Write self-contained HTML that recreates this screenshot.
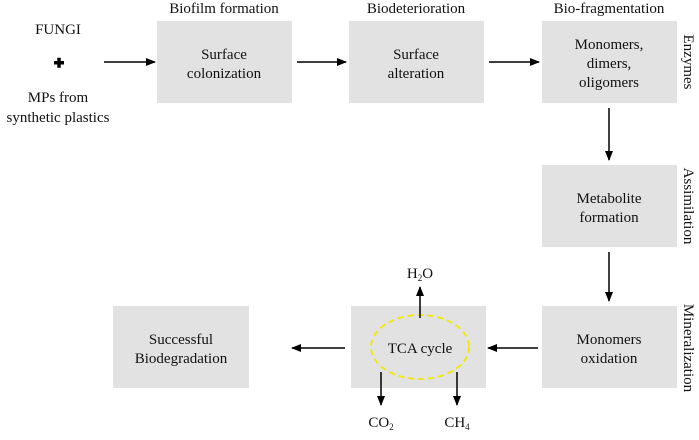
<!DOCTYPE html><html><head><style>
body{margin:0;background:#fff}
text{font-family:"Liberation Serif",serif;fill:#111}
</style></head><body>
<svg width="699" height="435" viewBox="0 0 699 435" xmlns="http://www.w3.org/2000/svg">
<defs><marker id="a" markerWidth="10" markerHeight="8" refX="9" refY="4" orient="auto" markerUnits="userSpaceOnUse"><path d="M0,0L10,4L0,8z" fill="#000"/></marker></defs>
<g fill="#e2e2e2">
<rect x="157" y="21" width="135" height="82"/>
<rect x="349" y="21" width="135" height="82"/>
<rect x="542" y="21" width="135" height="82"/>
<rect x="542" y="165" width="135" height="82"/>
<rect x="542" y="306" width="135" height="82"/>
<rect x="351" y="306" width="135" height="82"/>
<rect x="113" y="306" width="136" height="82"/>
</g>
<ellipse cx="420" cy="347" rx="49" ry="32" fill="none" stroke="#f5e800" stroke-width="1.8" stroke-dasharray="6,4"/>
<g stroke="#000" stroke-width="1.5" marker-end="url(#a)">
<line x1="104" y1="62" x2="155" y2="62"/>
<line x1="297" y1="62" x2="346" y2="62"/>
<line x1="489" y1="62" x2="539" y2="62"/>
<line x1="609" y1="108" x2="609" y2="160"/>
<line x1="609" y1="252" x2="609" y2="301"/>
<line x1="538" y1="348" x2="488" y2="348"/>
<line x1="345" y1="348" x2="292" y2="348"/>
<line x1="420" y1="318" x2="420" y2="287"/>
<line x1="381" y1="372" x2="381" y2="405"/>
<line x1="457" y1="372" x2="457" y2="405"/>
</g>
<rect x="54" y="61" width="10" height="3.5" fill="#000"/>
<rect x="57.25" y="57.75" width="3.5" height="10" fill="#000"/>
<g font-size="15" text-anchor="middle">
<text x="224" y="13">Biofilm formation</text>
<text x="416" y="13">Biodeterioration</text>
<text x="609" y="13">Bio-fragmentation</text>
<text x="58" y="34">FUNGI</text>
<text x="58" y="102">MPs from</text>
<text x="58" y="122">synthetic plastics</text>
<text x="224" y="59">Surface</text><text x="224" y="78">colonization</text>
<text x="416" y="59">Surface</text><text x="416" y="78">alteration</text>
<text x="609" y="49">Monomers,</text><text x="609" y="68">dimers,</text><text x="609" y="87">oligomers</text>
<text x="609" y="203">Metabolite</text><text x="609" y="222">formation</text>
<text x="609" y="344">Monomers</text><text x="609" y="363">oxidation</text>
<text x="420" y="353">TCA cycle</text>
<text x="181" y="344">Successful</text><text x="181" y="363">Biodegradation</text>
<text x="420" y="278">H<tspan font-size="9" dy="3">2</tspan><tspan dy="-3">O</tspan></text>
<text x="381" y="427">CO<tspan font-size="9" dy="3">2</tspan></text>
<text x="457" y="427">CH<tspan font-size="9" dy="3">4</tspan></text>
<text transform="translate(684,62) rotate(90)">Enzymes</text>
<text transform="translate(684,206) rotate(90)">Assimilation</text>
<text transform="translate(684,348) rotate(90)">Mineralization</text>
</g>
</svg>
</body></html>
